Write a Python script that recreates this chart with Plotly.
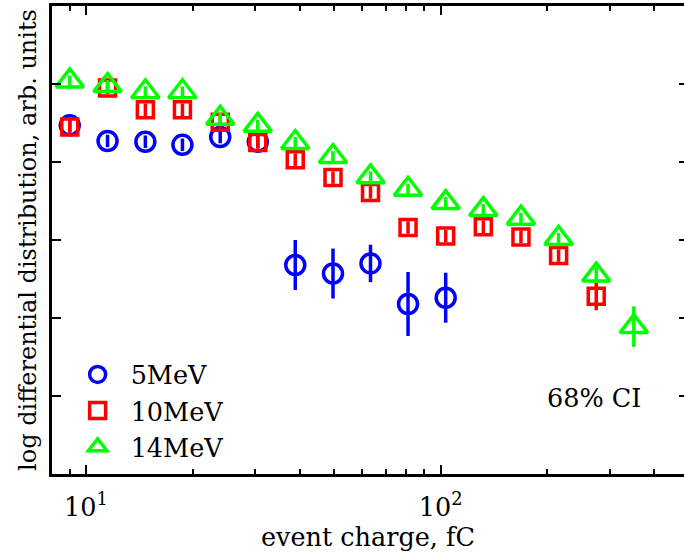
import numpy as np
import plotly.graph_objects as go

# event charge bins (fC)
charge = [9.0, 11.5, 14.7, 18.7, 23.9, 30.5, 38.9, 49.7, 63.4, 80.9,
          103.3, 131.9, 168.4, 215.0, 274.5, 350.4]

# log differential distribution (arb. units)
y_5mev = [4.47, 4.27, 4.26, 4.22, 4.32, 4.26, 2.68, 2.57, 2.70, 2.18, 2.26]
e_5mev = [0.08, 0.08, 0.08, 0.08, 0.08, 0.08, 0.32, 0.32, 0.24, 0.41, 0.32]

y_10mev = [4.45, 4.95, 4.67, 4.67, 4.51, 4.25, 4.03, 3.80, 3.61, 3.16,
           3.05, 3.17, 3.04, 2.80, 2.28]
e_10mev = [0.08, 0.08, 0.08, 0.08, 0.08, 0.08, 0.08, 0.08, 0.08, 0.08,
           0.08, 0.08, 0.08, 0.08, 0.18]

y_14mev = [5.04, 4.98, 4.90, 4.90, 4.56, 4.47, 4.25, 4.07, 3.81, 3.65,
           3.48, 3.39, 3.28, 3.02, 2.55, 1.89]
e_14mev = [0.07, 0.07, 0.07, 0.07, 0.07, 0.07, 0.07, 0.07, 0.07, 0.07,
           0.07, 0.07, 0.07, 0.07, 0.10, 0.26]

names = ["5MeV", "10MeV", "14MeV"]
colors = ["#0000ff", "#ff0000", "#00ff00"]
symbols = ["circle-open", "square-open", "triangle-up-open"]
sizes = [19, 16, 24]

FONT = "DejaVu Serif"
FS = 25.5

fig = go.Figure()
series = [(y_5mev, e_5mev), (y_10mev, e_10mev), (y_14mev, e_14mev)]
for (yv, ev), nm, col, sym, sz in zip(series, names, colors, symbols, sizes):
    fig.add_trace(go.Scatter(
        x=charge[:len(yv)], y=yv, name=nm, mode="markers",
        marker=dict(symbol=sym, size=sz, color=col, line=dict(width=3.5, color=col)),
        error_y=dict(type="data", array=ev, visible=True, color=col,
                     thickness=3.5, width=0),
    ))

# right-side ticks (no visible spine)
fig.add_trace(go.Scatter(x=[charge[0]], y=[None], yaxis="y2", showlegend=False,
                         hoverinfo="skip", mode="markers"))

minor_vals = [9] + [v * 10 for v in range(2, 10)] + [v * 100 for v in range(2, 6)]

fig.update_layout(
    width=684, height=552,
    margin=dict(l=52, r=0, t=6, b=78),
    paper_bgcolor="white", plot_bgcolor="white",
    font=dict(family=FONT, size=FS, color="black"),
    xaxis=dict(
        type="log", range=[0.9041, 2.686],
        tickvals=[10, 100], ticktext=["10<sup>1</sup>", "10<sup>2</sup>"],
        ticks="inside", ticklen=9, tickwidth=2, tickcolor="black",
        ticklabelstandoff=8,
        minor=dict(tickvals=minor_vals, ticks="inside", ticklen=5, tickwidth=2,
                   tickcolor="black", showgrid=False),
        showline=True, linewidth=3, linecolor="black", mirror="ticks",
        showgrid=False, zeroline=False,
        tickfont=dict(family=FONT, size=FS),
        title=dict(text="event charge, fC", font=dict(family=FONT, size=FS), standoff=0),
    ),
    yaxis=dict(
        range=[0, 6], dtick=1, tick0=0,
        ticks="inside", ticklen=9, tickwidth=2, tickcolor="black",
        showticklabels=False,
        showline=True, linewidth=3, linecolor="black",
        showgrid=False, zeroline=False,
        title=dict(text="log differential distribution, arb. units",
                   font=dict(family=FONT, size=24), standoff=6),
    ),
    yaxis2=dict(
        overlaying="y", side="right", range=[0, 6], dtick=1, tick0=0,
        ticks="inside", ticklen=5, tickwidth=2, tickcolor="black",
        showticklabels=False, showline=False, showgrid=False, zeroline=False,
    ),
    legend=dict(x=0.02, y=0.262, xanchor="left", yanchor="top",
                bgcolor="rgba(0,0,0,0)", font=dict(family=FONT, size=FS),
                itemwidth=56, tracegroupgap=0),
    annotations=[dict(text="68% CI", xref="paper", yref="paper", x=0.935, y=0.163,
                      xanchor="right", yanchor="middle", showarrow=False,
                      font=dict(family=FONT, size=FS))],
    showlegend=True,
)

fig.write_html("out.html")
